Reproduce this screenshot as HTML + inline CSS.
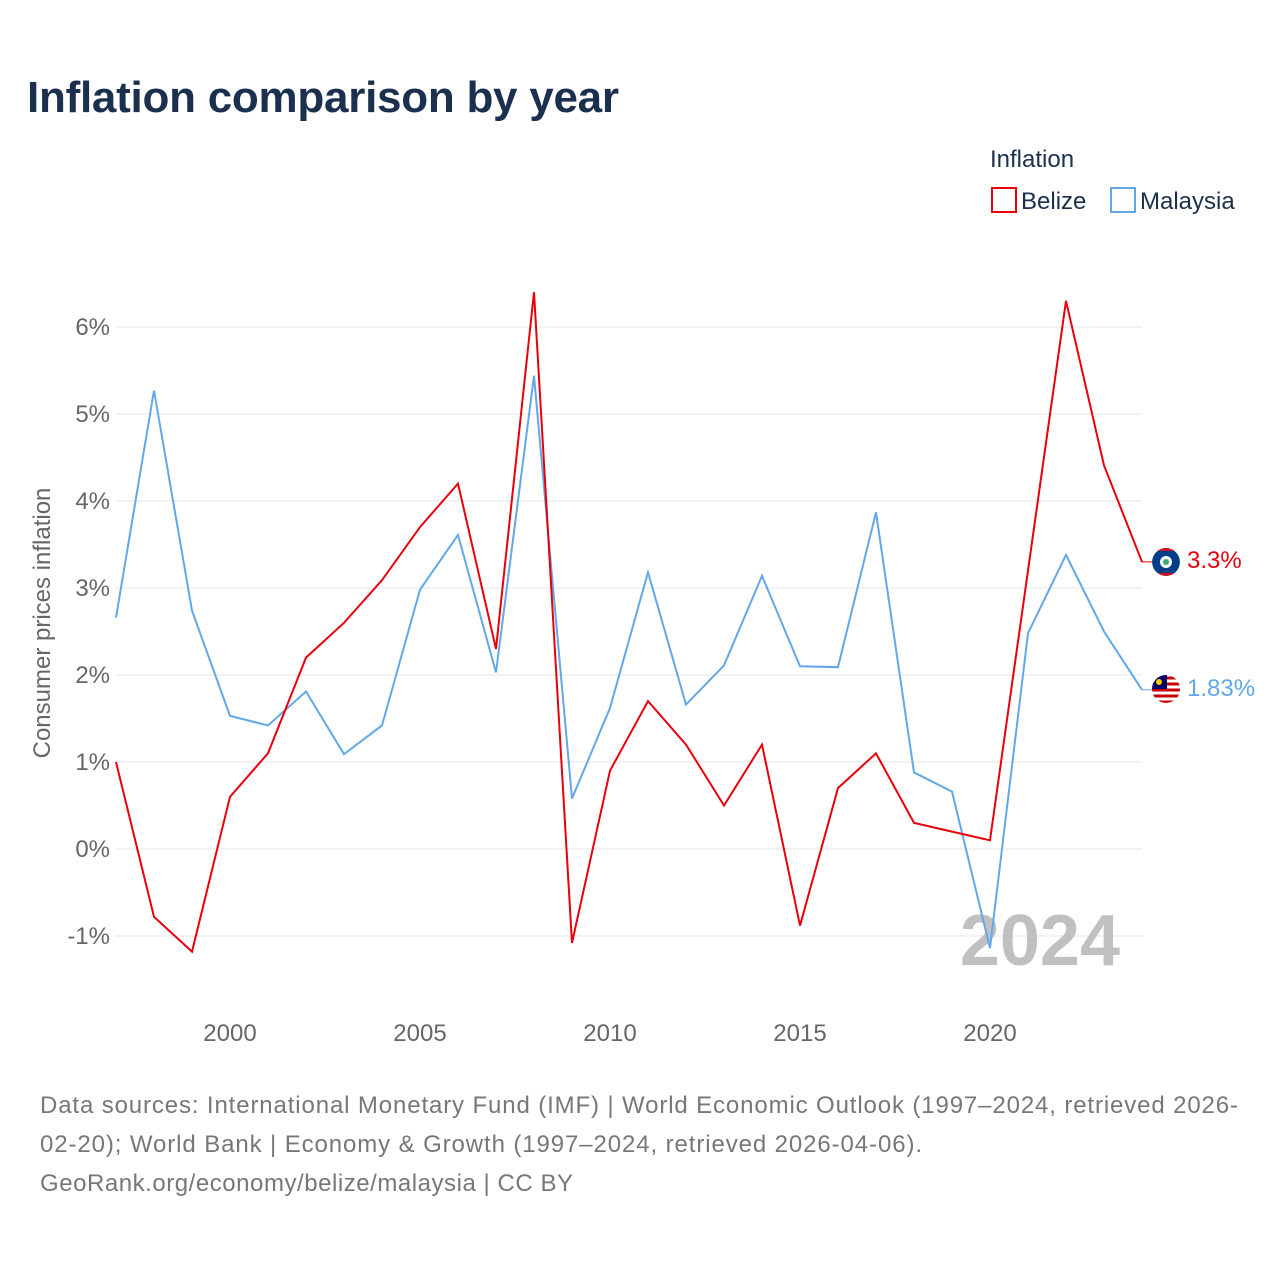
<!DOCTYPE html>
<html><head><meta charset="utf-8"><style>
body{margin:0;background:#fff;font-family:"Liberation Sans",sans-serif}
</style></head><body>
<svg width="1280" height="1280" viewBox="0 0 1280 1280" xmlns="http://www.w3.org/2000/svg" font-family="Liberation Sans, sans-serif">
<defs><clipPath id="c1"><circle cx="1166" cy="562" r="14"/></clipPath><clipPath id="c2"><circle cx="1166" cy="689" r="14"/></clipPath></defs>
<text x="27" y="112" font-size="44" font-weight="bold" fill="#1b2f4e" textLength="592">Inflation comparison by year</text>
<text x="990" y="167" font-size="24" fill="#1b2f4e">Inflation</text>
<g><rect x="992" y="188" width="24" height="24" fill="none" stroke="#e8000b" stroke-width="2"/><text x="1021" y="209" font-size="24" fill="#1b2f4e">Belize</text></g>
<g><rect x="1111" y="188" width="24" height="24" fill="none" stroke="#62a8e8" stroke-width="2"/><text x="1140" y="209" font-size="24" fill="#1b2f4e">Malaysia</text></g>
<g id="grid"></g><g id="yt"></g><g id="xt"></g>
<text transform="translate(50,623) rotate(-90)" text-anchor="middle" font-size="24" fill="#666">Consumer prices inflation</text>
<text x="1120" y="965" text-anchor="end" font-size="72" font-weight="bold" fill="#c0c0c0">2024</text>
<g id="lines"></g>
<g clip-path="url(#c1)"><circle cx="1166" cy="562" r="14" fill="#003f87"/><rect x="1152" y="548" width="28" height="3" fill="#ce1126"/><rect x="1152" y="573" width="28" height="3" fill="#ce1126"/><circle cx="1166" cy="562" r="6" fill="#fff"/><circle cx="1166" cy="562" r="3" fill="#3a7"/></g>
<g clip-path="url(#c2)"><circle cx="1166" cy="689" r="14" fill="#fff"/><path d="M1152,678h28M1152,684h28M1152,690h28M1152,696h28M1152,702h28" stroke="#cc0001" stroke-width="3"/><rect x="1152" y="675" width="15" height="14" fill="#010066"/><circle cx="1159" cy="682" r="3" fill="#fc0"/></g>
<text x="1187" y="568" font-size="24" fill="#e8000b">3.3%</text>
<text x="1187" y="696" font-size="24" fill="#62a8e8">1.83%</text>
<g font-size="24" fill="#777">
<text x="40" y="1113" textLength="1198">Data sources: International Monetary Fund (IMF) | World Economic Outlook (1997–2024, retrieved 2026-</text>
<text x="40" y="1152" textLength="882">02-20); World Bank | Economy &amp; Growth (1997–2024, retrieved 2026-04-06).</text>
<text x="40" y="1191" textLength="533">GeoRank.org/economy/belize/malaysia | CC BY</text>
</g>
</svg>
<script>
const years=[1997,1998,1999,2000,2001,2002,2003,2004,2005,2006,2007,2008,2009,2010,2011,2012,2013,2014,2015,2016,2017,2018,2019,2020,2021,2022,2023,2024];
const belize=[1.0,-0.78,-1.18,0.6,1.1,2.2,2.6,3.09,3.7,4.2,2.3,6.4,-1.08,0.9,1.7,1.2,0.5,1.2,-0.88,0.7,1.1,0.3,0.2,0.1,3.2,6.3,4.41,3.3];
const malaysia=[2.66,5.27,2.74,1.53,1.42,1.81,1.09,1.42,2.98,3.61,2.03,5.44,0.58,1.62,3.18,1.66,2.11,3.14,2.10,2.09,3.87,0.88,0.66,-1.14,2.48,3.38,2.5,1.83];
const yTicks=[-1,0,1,2,3,4,5,6];
const xTicks=[2000,2005,2010,2015,2020];
const NS="http://www.w3.org/2000/svg";
const x=v=>116+(v-1997)*38, y=v=>849-v*87;
function mk(t,a,p){const e=document.createElementNS(NS,t);for(const k in a)e.setAttribute(k,a[k]);document.getElementById(p).appendChild(e);return e;}
yTicks.forEach(t=>{
 const l=mk('line',{x1:116,x2:1142,y1:y(t),y2:y(t),stroke:'#e6e6e6','stroke-width':1},'grid');
 
 
 const tx=mk('text',{x:110,y:y(t)+8,'text-anchor':'end','font-size':24,fill:'#666'},'yt');tx.textContent=t+'%';
 
 
});
xTicks.forEach(t=>{
 const tx=mk('text',{x:x(t),y:1041,'text-anchor':'middle','font-size':24,fill:'#666'},'xt');tx.textContent=t;
 
 
});
[[malaysia,'#62a8e8','malaysia-line'],[belize,'#e8000b','belize-line']].forEach(([d,c,n])=>{
 const pts=d.map((v,i)=>x(years[i])+','+y(v)).join(' ');
 const p=mk('polyline',{points:pts,fill:'none',stroke:c,'stroke-width':2},'lines');
 
 
 const last=d[d.length-1];
 const e=mk('line',{x1:x(2024),x2:x(2024)+10,y1:y(last),y2:y(last),stroke:c,'stroke-width':1},'lines');
 
 
});
</script>
</body></html>
